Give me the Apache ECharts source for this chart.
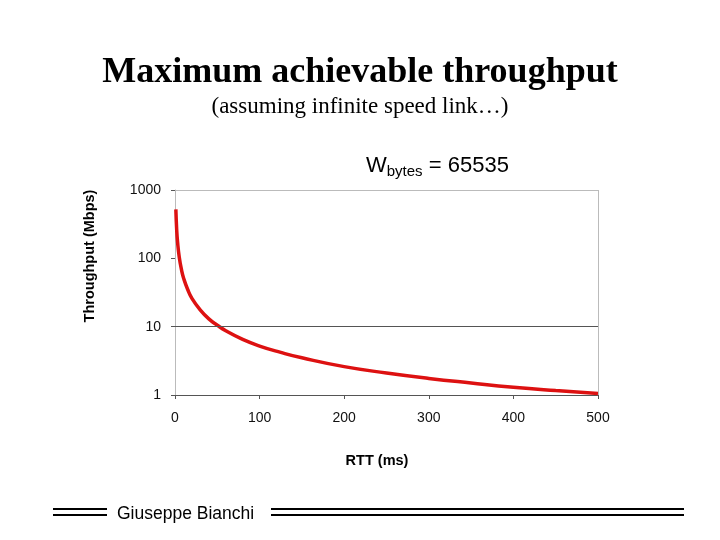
<html>
<head>
    <meta http-equiv="Content-Type" content="text/html; charset=utf-8" />
    <title>Maximum achievable throughput</title>
    <style>
        body { margin: 0; background: #fff; }
        #container { width: 720px; height: 540px; }
    </style>
</head>
<body>
    <div id="container"></div>
    <script src="https://cdn.jsdelivr.net/npm/echarts@6/dist/echarts.min.js"></script>
    <script type="text/javascript">
    // values
    var rtt = [1, 2, 3, 5, 8, 10, 15, 20, 30, 40, 50, 60, 80, 100, 125, 150, 200, 250, 300, 350, 400, 450, 500];
    var throughput = [520, 262, 175, 105, 65, 52, 35, 26, 17.5, 13, 10.5, 8.7, 6.5, 5.2, 4.2, 3.5, 2.6, 2.1, 1.75, 1.5, 1.3, 1.16, 1.05];
    var xTicks = [0, 100, 200, 300, 400, 500];
    var yTicks = [1, 10, 100, 1000];

    var pts = [];
    for (var i = 0; i < rtt.length; i++) {
        pts.push([rtt[i], throughput[i]]);
    }

    var myChart = echarts.init(document.getElementById('container'));

    var option = {
        backgroundColor: '#fff',
        animation: false,
        title: [{
            text: 'Maximum achievable throughput',
            left: 'center',
            top: 50,
            textStyle: { fontFamily: 'Liberation Serif', fontSize: 36, fontWeight: 'bold', color: '#000' }
        }, {
            text: '(assuming infinite speed link…)',
            left: 'center',
            top: 90,
            textStyle: { fontFamily: 'Liberation Serif', fontSize: 23, fontWeight: 'normal', color: '#000' }
        }, {
            text: '{w|W}{s|bytes}{w| = 65535}',
            left: 361,
            top: 148,
            textStyle: {
                fontWeight: 'normal',
                rich: {
                    w: { fontFamily: 'Liberation Sans', fontSize: 22, fontWeight: 'normal', color: '#000', lineHeight: 26 },
                    s: { fontFamily: 'Liberation Sans', fontSize: 15, fontWeight: 'normal', color: '#000', padding: [12, 0, 0, 0], lineHeight: 26 }
                }
            }
        }],
        grid: { left: 175, right: 122, top: 190, bottom: 145 },
        xAxis: {
            type: 'value',
            min: 0,
            max: 500,
            interval: 100,
            axisLine: { show: true, lineStyle: { color: '#555', width: 1 } },
            axisTick: { show: true, length: 4, lineStyle: { color: '#555' } },
            axisLabel: {
                margin: 16,
                fontFamily: 'Liberation Sans', fontSize: 14, color: '#111',
                formatter: function (v) { return xTicks.indexOf(v) >= 0 ? String(v) : ''; }
            },
            splitLine: { show: false }
        },
        yAxis: {
            type: 'log',
            logBase: 10,
            min: 1,
            max: 1000,
            axisLine: { show: true, lineStyle: { color: '#bbb', width: 1 } },
            axisTick: { show: true, length: 4, lineStyle: { color: '#555' } },
            axisLabel: {
                margin: 14,
                fontFamily: 'Liberation Sans', fontSize: 14, color: '#111',
                formatter: function (v) { return yTicks.indexOf(Math.round(v)) >= 0 ? String(Math.round(v)) : ''; }
            },
            splitLine: { show: false }
        },
        series: [{
            type: 'line',
            data: pts,
            smooth: true,
            symbol: 'none',
            lineStyle: { color: '#dd1111', width: 3.5 },
            markLine: {
                silent: true,
                symbol: 'none',
                label: { show: false },
                data: [
                    { yAxis: 10, lineStyle: { color: '#555', width: 1, type: 'solid' } },
                    { yAxis: 1000, lineStyle: { color: '#bbb', width: 1, type: 'solid' } },
                    [{ coord: [500, 1] }, { coord: [500, 1000] }]
                ],
                lineStyle: { color: '#bbb', width: 1, type: 'solid' }
            }
        }],
        graphic: [
            {
                type: 'text', x: 90, y: 256, rotation: Math.PI / 2,
                style: { text: 'Throughput (Mbps)', fontFamily: 'Liberation Sans', fontSize: 14.5, fontWeight: 'bold', fill: '#000', align: 'center', verticalAlign: 'middle' }
            },
            {
                type: 'text', x: 377, y: 461,
                style: { text: 'RTT (ms)', fontFamily: 'Liberation Sans', fontSize: 14.5, fontWeight: 'bold', fill: '#000', align: 'center', verticalAlign: 'middle' }
            },
            { type: 'line', shape: { x1: 53, y1: 509, x2: 107, y2: 509 }, style: { stroke: '#000', lineWidth: 2 } },
            { type: 'line', shape: { x1: 53, y1: 515, x2: 107, y2: 515 }, style: { stroke: '#000', lineWidth: 2 } },
            { type: 'line', shape: { x1: 271, y1: 509, x2: 684, y2: 509 }, style: { stroke: '#000', lineWidth: 2 } },
            { type: 'line', shape: { x1: 271, y1: 515, x2: 684, y2: 515 }, style: { stroke: '#000', lineWidth: 2 } },
            {
                type: 'text', left: 117, top: 505,
                style: { text: 'Giuseppe Bianchi', fontFamily: 'Liberation Sans', fontSize: 17.5, fill: '#000' }
            }
        ]
    };

    myChart.setOption(option);
    </script>
</body>
</html>
